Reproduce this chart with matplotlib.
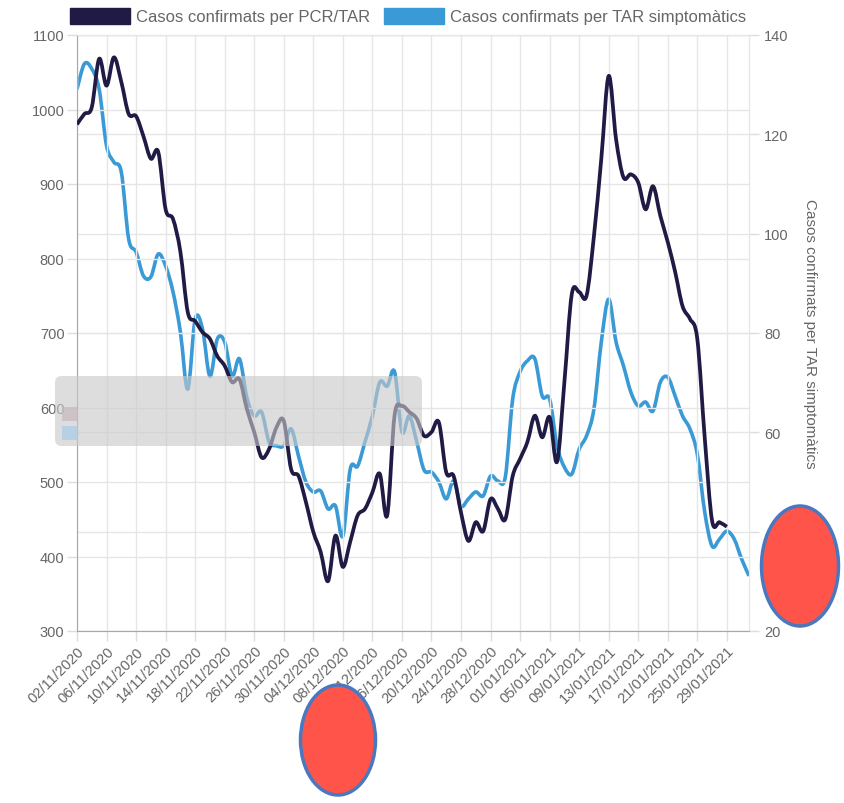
import numpy as np
import pandas as pd
import matplotlib
matplotlib.use("Agg")
import matplotlib.pyplot as plt
from matplotlib.patches import Patch, FancyBboxPatch, Ellipse, PathPatch
from matplotlib.path import Path

plt.rcParams['font.family'] = ['Liberation Sans', 'DejaVu Sans']

# data (one value per day from 02/11/2020)
start_date = "2020-11-02"
pcr_tar = [980, 994, 1003, 1068, 1032, 1070, 1037, 994, 991, 964,
           934, 943, 866, 853, 809, 728, 716, 701, 692, 669,
           656, 634, 638, 598, 567, 533, 544, 573, 582, 517,
           508, 473, 433, 406, 367, 428, 386, 420, 455, 464,
           486, 511, 455, 589, 602, 594, 585, 562, 567, 580,
           513, 508, 459, 421, 446, 434, 477, 464, 450, 508,
           531, 554, 589, 560, 587, 527, 634, 752, 755, 750,
           830, 934, 1045, 960, 909, 913, 902, 866, 897, 857,
           822, 782, 736, 719, 692, 560, 448, 446, 440]
tar_simpt = [129.1, 134.2, 133.2, 129.1, 117.7, 114.4, 112.4, 98.9, 96.3, 91.5,
             91.3, 95.9, 93.5, 88.3, 80.2, 68.7, 82.8, 80.8, 71.3, 78.8,
             78.2, 71.3, 74.8, 67.0, 63.3, 64.1, 58.1, 57.3, 57.3, 60.7,
             55.2, 50.0, 48.0, 48.2, 44.6, 45.2, 39.1, 52.6, 53.2, 58.1,
             63.3, 70.1, 69.3, 72.2, 60.1, 63.3, 58.1, 52.4, 52.0, 50.0,
             46.6, 50.2, 45.2, 46.6, 48.0, 47.2, 51.2, 50.2, 51.0, 66.7,
             72.2, 74.4, 74.8, 67.3, 66.7, 57.3, 53.0, 51.6, 56.6, 59.3,
             64.7, 78.2, 86.8, 78.2, 73.4, 68.1, 65.3, 66.1, 64.3, 70.1,
             71.1, 67.3, 63.3, 60.7, 55.6, 44.0, 37.1, 38.5, 40.1, 38.5,
             34.5, 31.1]
label_pcr = "Casos confirmats per PCR/TAR"
label_tar = "Casos confirmats per TAR simptomàtics"

dark = "#1f1b45"
blue = "#3a9ad6"
txt = "#666666"
grid = "#e6e6e6"


def smooth_path(x, y, k=1 / 6):
    # catmull-rom style bezier through every data point (like chart.js tension)
    x = np.asarray(x, float)
    y = np.asarray(y, float)
    verts = [(x[0], y[0])]
    codes = [Path.MOVETO]
    n = len(x)
    for i in range(n - 1):
        i0 = max(i - 1, 0)
        i3 = min(i + 2, n - 1)
        c1 = (x[i] + k * (x[i + 1] - x[i0]), y[i] + k * (y[i + 1] - y[i0]))
        c2 = (x[i + 1] - k * (x[i3] - x[i]), y[i + 1] - k * (y[i3] - y[i]))
        verts += [c1, c2, (x[i + 1], y[i + 1])]
        codes += [Path.CURVE4] * 3
    return Path(verts, codes)


n_days = len(tar_simpt)
dates = pd.date_range(start_date, periods=n_days, freq="D")
days = np.arange(n_days)
tick_pos = days[::4][:23]
tick_lbl = [d.strftime("%d/%m/%Y") for d in dates[tick_pos]]

fig = plt.figure(figsize=(8.45, 8.04), dpi=100)
ax = fig.add_axes([77 / 845, 1 - 632 / 804, 672 / 845, 596 / 804])
ax2 = ax.twinx()

ax.add_patch(PathPatch(smooth_path(days[:len(pcr_tar)], pcr_tar), facecolor="none",
                       edgecolor=dark, lw=2.7, joinstyle="round", zorder=3))
ax2.add_patch(PathPatch(smooth_path(days, tar_simpt), facecolor="none",
                        edgecolor=blue, lw=2.6, joinstyle="round", zorder=2))

ax.set_xlim(0, n_days - 1)
ax.set_ylim(300, 1100)
ax2.set_ylim(20, 140)
ax.set_yticks(range(300, 1101, 100))
ax2.set_yticks(range(20, 141, 20))
ax.set_xticks(tick_pos)
ax.set_xticklabels(tick_lbl, rotation=45, ha="right", rotation_mode="anchor")

ax.grid(True, color=grid, lw=1)
ax2.grid(True, axis="y", color=grid, lw=1)
ax.set_axisbelow(True)
ax2.set_axisbelow(True)
ax.set_zorder(ax2.get_zorder() + 1)
ax.patch.set_visible(False)

for a in (ax, ax2):
    a.tick_params(colors=txt, labelsize=10.5, length=7, width=1)
    a.tick_params(axis="both", color="#dddddd")
    for s in a.spines.values():
        s.set_color(grid)
ax.spines["left"].set_color("#a8a8a8")
ax.spines["bottom"].set_color("#a8a8a8")
ax.tick_params(axis="x", pad=2)
ax.tick_params(axis="y", pad=2)
ax2.tick_params(axis="y", pad=4)

ax2.set_ylabel(label_tar, rotation=270, color=txt, fontsize=11, labelpad=20)

handles = [Patch(facecolor=dark, edgecolor=dark, label=label_pcr),
           Patch(facecolor=blue, edgecolor=blue, label=label_tar)]
fig.legend(handles=handles, loc="upper center", bbox_to_anchor=(408 / 845, 1.008),
           ncol=2, frameon=False, fontsize=12, labelcolor=txt,
           handlelength=3.6, handleheight=1.1, handletextpad=0.35, columnspacing=0.8)

# grey tooltip overlay
tip = FancyBboxPatch((55 / 845, 1 - 447 / 804), 367 / 845, 70 / 804,
                     boxstyle="round,pad=0,rounding_size=0.008",
                     transform=fig.transFigure, facecolor="#c9c9c9", edgecolor="none",
                     alpha=0.62, zorder=20)
fig.add_artist(tip)
fig.add_artist(FancyBboxPatch((62 / 845, 1 - 422 / 804), 16 / 845, 14 / 804,
                              boxstyle="square,pad=0", transform=fig.transFigure,
                              facecolor="#c4b8bc", edgecolor="none", alpha=0.7, zorder=21))
fig.add_artist(FancyBboxPatch((62 / 845, 1 - 441 / 804), 16 / 845, 14 / 804,
                              boxstyle="square,pad=0", transform=fig.transFigure,
                              facecolor="#a9cbe6", edgecolor="none", alpha=0.7, zorder=21))

# red marks drawn over the chart
for cx, cy, w, h in [(338, 741, 75, 110), (800, 567, 77, 120)]:
    fig.add_artist(Ellipse((cx / 845, 1 - cy / 804), w / 845, h / 804,
                           transform=fig.transFigure, facecolor="#ff5449",
                           edgecolor="#4a78c0", lw=2.5, zorder=30))

fig.savefig("out.png", dpi=100)
